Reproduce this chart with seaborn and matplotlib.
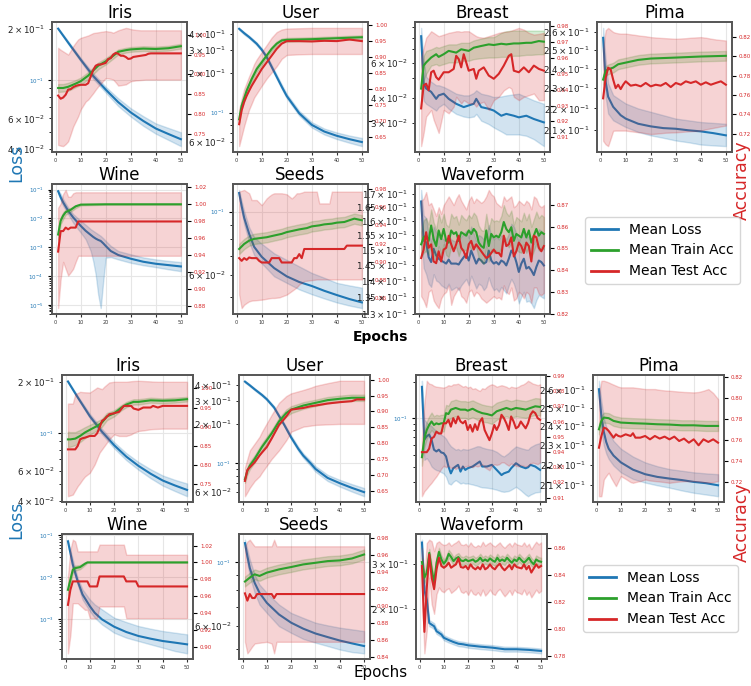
import numpy as np
import pandas as pd
import seaborn as sns
import matplotlib.pyplot as plt
from matplotlib.lines import Line2D

# Every row below is (epoch, low, mean, high).
# "1" = upper figure, "2" = lower figure.

iris1_loss = [(1, .199, .200, .202), (5, .163, .166, .169), (10, .129, .132, .135), (15, .102, .106, .110),
              (20, .085, .0883, .0916), (25, .0708, .0746, .0785), (30, .0615, .0650, .0687),
              (35, .0543, .0580, .0618), (40, .0489, .0524, .0561), (45, .0450, .0487, .0528),
              (50, .0414, .0454, .0498)]
iris1_train = [(1, .856, .866, .876), (3, .857, .866, .876), (5, .859, .869, .879), (8, .868, .877, .886),
               (10, .874, .883, .892), (13, .888, .897, .906), (15, .901, .910, .918), (17, .913, .922, .930),
               (20, .925, .933, .941), (23, .940, .947, .954), (25, .950, .957, .963), (28, .955, .961, .967),
               (30, .957, .963, .969), (35, .959, .965, .971), (40, .958, .964, .970), (45, .960, .966, .972),
               (50, .965, .971, .977)]
iris1_test = [(1, .723, .847, .967), (2, .721, .839, .962), (3, .720, .842, .958), (4, .725, .849, .954),
              (5, .732, .862, .950), (6, .750, .863, .960), (7, .769, .868, .971), (8, .782, .871, .980),
              (9, .795, .873, .988), (10, .812, .874, .992), (12, .832, .874, .996), (13, .837, .878, .998),
              (14, .845, .895, 1.001), (15, .853, .911, 1.004), (16, .862, .922, 1.005), (17, .870, .925, 1.006),
              (18, .877, .925, 1.007), (20, .891, .929, 1.009), (21, .890, .939, 1.008), (22, .889, .941, 1.007),
              (23, .887, .950, 1.005), (24, .880, .954, 1.008), (25, .872, .952, 1.011), (26, .873, .947, 1.013),
              (27, .874, .947, 1.015), (28, .875, .944, 1.017), (29, .879, .939, 1.016), (30, .883, .940, 1.014),
              (31, .884, .944, 1.013), (32, .885, .945, 1.012), (34, .886, .947, 1.011), (36, .887, .949, 1.011),
              (37, .887, .952, 1.011), (38, .887, .953, 1.011), (40, .887, .953, 1.011), (50, .887, .953, 1.011)]

user1_loss = [(1, .430, .437, .444), (3, .395, .405, .413), (5, .370, .378, .386), (8, .328, .336, .344),
              (10, .295, .303, .311), (12, .258, .266, .274), (15, .198, .205, .212), (18, .152, .158, .164),
              (20, .129, .134, .139), (25, .0950, .0988, .103), (30, .0770, .0806, .0845),
              (35, .0681, .0717, .0755), (40, .0628, .0665, .0705), (45, .0589, .0627, .0668),
              (50, .0555, .0596, .0640)]
user1_train = [(1, .696, .706, .716), (2, .738, .748, .758), (4, .785, .795, .805), (6, .821, .831, .841),
               (8, .853, .862, .871), (10, .875, .883, .891), (12, .897, .904, .911), (14, .918, .925, .932),
               (16, .934, .941, .948), (18, .945, .951, .957), (20, .947, .953, .959), (30, .949, .955, .961),
               (40, .952, .958, .964), (50, .955, .961, .967)]
user1_test = [(1, .623, .691, .737), (2, .654, .734, .770), (3, .685, .760, .800), (4, .712, .779, .820),
              (5, .737, .795, .840), (6, .755, .810, .858), (7, .774, .823, .878), (8, .786, .836, .892),
              (10, .810, .862, .915), (12, .833, .883, .937), (14, .852, .904, .960), (16, .871, .925, .977),
              (18, .894, .941, .985), (20, .906, .949, .988), (25, .908, .949, .989), (30, .909, .948, .990),
              (35, .909, .950, .990), (40, .909, .949, .990), (45, .909, .954, .990), (50, .909, .949, .990)]

breast1_loss = [(1, .0723, .0813, .0895), (2, .0387, .0471, .0619), (3, .0373, .0445, .0509),
                (5, .0359, .0428, .0481), (7, .0345, .0395, .0462), (8, .0359, .0411, .0462),
                (10, .0373, .0419, .0453), (12, .0352, .0395, .0440), (15, .0332, .0373, .0419),
                (18, .0322, .0359, .0411), (20, .0319, .0366, .0411), (22, .0322, .0373, .0423),
                (23, .0332, .0395, .0436), (25, .0307, .0359, .0419), (28, .0295, .0352, .0411),
                (30, .0284, .0345, .0403), (33, .0271, .0325, .0406), (35, .0262, .0332, .0411),
                (38, .0262, .0325, .0416), (40, .0262, .0319, .0419), (43, .0258, .0325, .0403),
                (46, .0248, .0313, .0388), (50, .0229, .0301, .0373)]
breast1_train = [(1, .9334, .9407, .9469), (2, .9458, .9552, .9614), (3, .9500, .9572, .9645),
                 (5, .9552, .9603, .9655), (7, .9562, .9624, .9670), (8, .9552, .9607, .9665),
                 (10, .9562, .9624, .9676), (12, .9572, .9645, .9686), (15, .9572, .9634, .9686),
                 (17, .9583, .9655, .9696), (20, .9583, .9645, .9696), (22, .9593, .9665, .9711),
                 (25, .9599, .9676, .9723), (28, .9603, .9686, .9732), (30, .9603, .9682, .9732),
                 (33, .9607, .9690, .9759), (35, .9607, .9686, .9769), (38, .9614, .9692, .9773),
                 (40, .9614, .9692, .9773), (43, .9620, .9696, .9773), (45, .9620, .9696, .9773),
                 (48, .9624, .9707, .9773), (50, .9624, .9703, .9773)]
breast1_test = [(1, .9044, .9282, .9603), (2, .9127, .9427, .9665), (3, .9231, .9438, .9728),
                (4, .9251, .9396, .9748), (5, .9272, .9510, .9769), (6, .9210, .9520, .9759),
                (7, .9169, .9479, .9748), (8, .9127, .9463, .9738), (10, .9272, .9510, .9748),
                (12, .9251, .9510, .9759), (14, .9293, .9531, .9765), (15, .9355, .9614, .9769),
                (16, .9334, .9593, .9769), (17, .9313, .9541, .9765), (18, .9334, .9624, .9769),
                (19, .9324, .9572, .9769), (20, .9313, .9520, .9769), (22, .9313, .9531, .9748),
                (23, .9293, .9469, .9738), (24, .9313, .9520, .9732), (26, .9324, .9541, .9728),
                (28, .9272, .9489, .9738), (30, .9334, .9469, .9748), (32, .9355, .9500, .9759),
                (34, .9396, .9552, .9765), (36, .9417, .9614, .9769), (37, .9407, .9624, .9773),
                (38, .9355, .9520, .9779), (40, .9334, .9510, .9790), (42, .9355, .9541, .9779),
                (44, .9365, .9510, .9759), (46, .9376, .9552, .9748), (48, .9334, .9531, .9752),
                (50, .9334, .9520, .9759)]

pima1_loss = [(1, .2519, .2566, .2622), (2, .2257, .2333, .2446), (3, .2176, .2257, .2324),
              (5, .2144, .2208, .2265), (8, .2125, .2168, .2240), (10, .2113, .2152, .2224),
              (15, .2090, .2128, .2200), (20, .2075, .2116, .2184), (25, .2064, .2108, .2168),
              (30, .2052, .2105, .2152), (35, .2044, .2098, .2144), (40, .2034, .2093, .2136),
              (45, .2030, .2085, .2132), (50, .2027, .2075, .2128)]
pima1_train = [(1, .7708, .7758, .7808), (2, .7796, .7846, .7896), (3, .7814, .7864, .7914),
               (5, .7831, .7881, .7931), (7, .7866, .7916, .7966), (10, .7883, .7933, .7983),
               (15, .7911, .7961, .8011), (20, .7925, .7975, .8025), (30, .7935, .7985, .8035),
               (40, .7946, .7996, .8046), (50, .7953, .8003, .8053)]
pima1_test = [(1, .7126, .7565, .8074), (2, .7090, .7775, .8267), (3, .7072, .7881, .8291),
              (4, .7150, .7863, .8270), (5, .7230, .7758, .8249), (6, .7232, .7670, .8240),
              (7, .7232, .7705, .8235), (8, .7232, .7660, .8232), (9, .7232, .7705, .8232),
              (10, .7232, .7740, .8232), (12, .7225, .7695, .8225), (14, .7218, .7705, .8218),
              (16, .7214, .7688, .8210), (18, .7205, .7723, .8205), (20, .7196, .7688, .8196),
              (22, .7200, .7705, .8192), (24, .7205, .7695, .8188), (26, .7210, .7723, .8185),
              (28, .7212, .7681, .8182), (30, .7214, .7723, .8179), (32, .7218, .7705, .8182),
              (34, .7222, .7740, .8185), (36, .7226, .7723, .8190), (38, .7228, .7740, .8193),
              (40, .7232, .7705, .8196), (42, .7245, .7730, .8190), (44, .7255, .7705, .8180),
              (46, .7265, .7723, .8172), (48, .7275, .7740, .8166), (50, .7284, .7705, .8161)]

wine1_loss = [(1, 10**-1.116, 10**-1.058, 10**-1.012), (2, 10**-1.38, 10**-1.267, 10**-1.15),
              (3, 10**-1.56, 10**-1.442, 10**-1.33), (5, 10**-1.849, 10**-1.733, 10**-1.616),
              (7, 10**-2.15, 10**-1.965, 10**-1.85), (10, 10**-2.488, 10**-2.256, 10**-2.081),
              (12, 10**-2.721, 10**-2.430, 10**-2.22), (14, 10**-3.128, 10**-2.570, 10**-2.372),
              (15, 10**-3.477, 10**-2.640, 10**-2.430), (16, 10**-3.942, 10**-2.698, 10**-2.488),
              (17, 10**-4.640, 10**-2.744, 10**-2.547), (18, 10**-5.105, 10**-2.779, 10**-2.605),
              (19, 10**-4.174, 10**-2.860, 10**-2.686), (20, 10**-3.360, 10**-2.953, 10**-2.779),
              (22, 10**-3.337, 10**-3.128, 10**-2.95), (25, 10**-3.419, 10**-3.267, 10**-3.128),
              (30, 10**-3.535, 10**-3.395, 10**-3.244), (35, 10**-3.62, 10**-3.500, 10**-3.35),
              (40, 10**-3.686, 10**-3.570, 10**-3.419), (45, 10**-3.76, 10**-3.616, 10**-3.47),
              (50, 10**-3.826, 10**-3.663, 10**-3.512)]
wine1_train = [(1, .9585, .9645, .9705), (2, .9766, .9806, .9846), (3, .9827, .9867, .9907),
               (4, .9877, .9907, .9937), (6, .9913, .9935, .9957), (8, .9955, .9976, .9990),
               (10, .9986, .9996, 1.0004), (20, .9995, 1.0, 1.0005), (50, .9995, 1.0, 1.0005)]
wine1_test = [(1, .8780, .9444, .9960), (2, .9121, .9685, 1.0008), (3, .9323, .9685, 1.0120),
              (4, .9242, .9726, 1.0169), (5, .9163, .9706, 1.0089), (6, .9200, .9726, 1.0089),
              (7, .9242, .9726, 1.0129), (8, .9323, .9726, 1.0141), (9, .9395, .9798, 1.0141),
              (50, .9395, .9798, 1.0141)]

seeds1_loss = [(1, 10**-0.946, 10**-0.934, 10**-0.923), (2, 10**-0.998, 10**-0.980, 10**-0.963),
               (3, 10**-1.044, 10**-1.021, 10**-0.998), (5, 10**-1.107, 10**-1.078, 10**-1.055),
               (7, 10**-1.153, 10**-1.124, 10**-1.090), (10, 10**-1.182, 10**-1.159, 10**-1.113),
               (15, 10**-1.228, 10**-1.199, 10**-1.147), (20, 10**-1.251, 10**-1.228, 10**-1.170),
               (25, 10**-1.274, 10**-1.248, 10**-1.193), (30, 10**-1.291, 10**-1.262, 10**-1.216),
               (35, 10**-1.306, 10**-1.279, 10**-1.233), (40, 10**-1.320, 10**-1.294, 10**-1.251),
               (45, 10**-1.331, 10**-1.308, 10**-1.260), (50, 10**-1.340, 10**-1.320, 10**-1.268)]
seeds1_train = [(1, .9085, .9141, .9197), (3, .9140, .9196, .9252), (5, .9177, .9233, .9289),
                (7, .9196, .9252, .9308), (10, .9207, .9263, .9319), (12, .9214, .9270, .9326),
                (15, .9233, .9289, .9345), (18, .9251, .9307, .9363), (20, .9270, .9326, .9382),
                (23, .9288, .9344, .9400), (25, .9300, .9356, .9412), (28, .9314, .9370, .9426),
                (30, .9333, .9389, .9445), (33, .9344, .9400, .9456), (35, .9355, .9411, .9467),
                (38, .9363, .9419, .9475), (40, .9374, .9430, .9486), (43, .9381, .9437, .9493),
                (45, .9400, .9456, .9512), (47, .9418, .9474, .9530), (50, .9400, .9456, .9512)]
seeds1_test = [(1, .8641, .9041, .9770), (2, .8493, .9011, .9780), (3, .8530, .9041, .9789),
               (4, .8550, .9022, .9770), (5, .8567, .9048, .9752), (6, .8575, .9041, .9678),
               (8, .8580, .9041, .9678), (9, .8583, .9011, .9650), (10, .8585, .8993, .9622),
               (12, .8595, .8993, .9696), (13, .8600, .8993, .9720), (14, .8604, .9041, .9740),
               (15, .8604, .9041, .9752), (17, .8610, .9041, .9752), (18, .8620, .8993, .9752),
               (20, .8641, .8993, .9741), (22, .8680, .8993, .9696), (23, .8700, .9041, .9720),
               (24, .8720, .9041, .9752), (25, .8752, .9085, .9752), (26, .8770, .9041, .9760),
               (27, .8789, .9141, .9770), (32, .8807, .9141, .9770), (33, .8807, .9141, .9641),
               (37, .8807, .9141, .9641), (38, .8807, .9141, .9770), (43, .8807, .9141, .9770),
               (44, .8807, .9178, .9770), (50, .8807, .9178, .9770)]

wave1_epoch = list(range(1, 51))
wave1_loss_mean = [.1671, .1531, .1525, .1475, .1459, .1503, .1481, .1470, .1464, .1459,
                   .1454, .1467, .1454, .1454, .1454, .1451, .1464, .1475, .1486, .1464,
                   .1497, .1475, .1454, .1470, .1464, .1454, .1459, .1497, .1464, .1454,
                   .1459, .1451, .1464, .1459, .1448, .1470, .1497, .1486, .1459, .1427,
                   .1454, .1470, .1438, .1443, .1432, .1417, .1443, .1464, .1459, .1448]
wave1_loss_lo = [.1560, .1440, .1420, .1390, .1380, .1420, .1400, .1395, .1385, .1380,
                 .1375, .1390, .1370, .1375, .1380, .1370, .1385, .1395, .1405, .1385,
                 .1415, .1395, .1375, .1390, .1385, .1370, .1380, .1410, .1385, .1370,
                 .1375, .1365, .1380, .1370, .1360, .1385, .1405, .1390, .1365, .1330,
                 .1350, .1365, .1335, .1338, .1330, .1316, .1340, .1355, .1350, .1345]
wave1_loss_hi = [.1715, .1620, .1610, .1550, .1530, .1580, .1560, .1545, .1540, .1535,
                 .1530, .1545, .1535, .1530, .1528, .1532, .1545, .1555, .1565, .1540,
                 .1580, .1555, .1530, .1550, .1545, .1535, .1540, .1585, .1545, .1535,
                 .1545, .1535, .1550, .1545, .1535, .1555, .1590, .1580, .1555, .1525,
                 .1555, .1575, .1540, .1548, .1535, .1520, .1545, .1570, .1565, .1550]
wave1_train_mean = [.8519, .8551, .8559, .8535, .8606, .8543, .8511, .8583, .8543, .8590,
                    .8535, .8527, .8583, .8567, .8575, .8535, .8575, .8567, .8559, .8583,
                    .8567, .8590, .8575, .8527, .8511, .8503, .8583, .8511, .8567, .8551,
                    .8559, .8551, .8575, .8622, .8590, .8575, .8598, .8535, .8567, .8559,
                    .8551, .8590, .8551, .8583, .8527, .8559, .8590, .8559, .8575, .8567]
wave1_train_lo = [.8460, .8480, .8490, .8470, .8530, .8470, .8440, .8510, .8470, .8520,
                  .8470, .8460, .8510, .8500, .8505, .8465, .8500, .8495, .8490, .8515,
                  .8495, .8520, .8505, .8455, .8440, .8430, .8510, .8440, .8495, .8480,
                  .8490, .8480, .8505, .8545, .8520, .8505, .8525, .8465, .8495, .8485,
                  .8480, .8520, .8480, .8510, .8455, .8490, .8520, .8490, .8505, .8495]
wave1_train_hi = [.8580, .8630, .8640, .8610, .8680, .8620, .8590, .8660, .8620, .8660,
                  .8610, .8600, .8660, .8640, .8650, .8610, .8655, .8640, .8630, .8655,
                  .8640, .8665, .8650, .8605, .8585, .8580, .8660, .8590, .8640, .8625,
                  .8630, .8625, .8650, .8700, .8665, .8650, .8675, .8610, .8645, .8635,
                  .8625, .8665, .8630, .8660, .8600, .8635, .8670, .8640, .8655, .8645]
wave1_test_mean = [.8456, .8495, .8575, .8503, .8519, .8440, .8432, .8487, .8440, .8495,
                   .8503, .8559, .8519, .8487, .8519, .8559, .8503, .8487, .8456, .8519,
                   .8535, .8495, .8519, .8503, .8487, .8471, .8456, .8463, .8479, .8495,
                   .8479, .8479, .8463, .8559, .8511, .8519, .8551, .8463, .8487, .8527,
                   .8511, .8479, .8527, .8511, .8440, .8559, .8551, .8503, .8487, .8511]
wave1_test_lo = [.8280, .8260, .8230, .8300, .8310, .8260, .8240, .8225, .8270, .8290,
                 .8300, .8330, .8240, .8280, .8300, .8320, .8280, .8270, .8250, .8300,
                 .8310, .8280, .8300, .8290, .8270, .8260, .8250, .8260, .8270, .8280,
                 .8270, .8275, .8265, .8330, .8300, .8290, .8320, .8260, .8270, .8300,
                 .8290, .8270, .8300, .8290, .8250, .8320, .8320, .8290, .8285, .8295]
wave1_test_hi = [.8720, .8730, .8760, .8700, .8710, .8680, .8650, .8690, .8660, .8700,
                 .8720, .8740, .8720, .8700, .8730, .8750, .8720, .8700, .8680, .8720,
                 .8740, .8710, .8730, .8720, .8710, .8720, .8740, .8770, .8750, .8740,
                 .8710, .8700, .8690, .8740, .8720, .8730, .8740, .8690, .8700, .8720,
                 .8710, .8700, .8720, .8710, .8680, .8740, .8730, .8700, .8690, .8700]

iris2_loss = [(1, .200, .202, .204), (5, .160, .163, .166), (10, .123, .126, .130), (15, .0985, .102, .106),
              (20, .0815, .0849, .0885), (25, .0693, .0727, .0762), (30, .0608, .0641, .0676),
              (35, .0542, .0576, .0612), (40, .0490, .0525, .0562), (45, .0455, .0491, .0530),
              (50, .0424, .0462, .0504)]
iris2_train = [(1, .847, .867, .887), (2, .848, .867, .886), (4, .852, .869, .886), (6, .860, .876, .892),
               (8, .870, .885, .899), (10, .879, .892, .905), (13, .891, .902, .914), (15, .900, .911, .921),
               (17, .917, .927, .936), (20, .927, .935, .943), (23, .943, .950, .957), (25, .951, .958, .965),
               (28, .958, .965, .972), (30, .958, .965, .972), (35, .963, .969, .976), (40, .961, .968, .974),
               (45, .963, .969, .976), (50, .966, .972, .978)]
iris2_test = [(1, .7185, .8409, .9607), (3, .7229, .8409, .9607), (4, .7340, .8409, .9851),
              (5, .7448, .8497, .9880), (6, .7530, .8671, .9913), (7, .7622, .8700, .9905),
              (8, .7700, .8715, .9900), (10, .7797, .8759, .9895), (12, .8016, .8759, .9980),
              (13, .8170, .8829, 1.0026), (14, .8322, .8977, 1.0005), (15, .8410, .9152, .9983),
              (16, .8497, .9196, 1.0050), (18, .8671, .9327, 1.0157), (20, .8802, .9353, 1.0175),
              (22, .8759, .9388, 1.0175), (24, .8759, .9545, 1.0175), (25, .8759, .9545, 1.0175),
              (27, .8800, .9545, 1.0190), (28, .8840, .9476, 1.0195), (30, .8890, .9441, 1.0201),
              (32, .8905, .9502, 1.0195), (35, .8934, .9502, 1.0185), (36, .8940, .9545, 1.0180),
              (38, .8945, .9502, 1.0175), (40, .8951, .9545, 1.0175), (50, .8951, .9545, 1.0175)]

user2_loss = [(1, .418, .4246, .431), (3, .391, .3976, .404), (5, .364, .3706, .377), (8, .329, .3353, .342),
              (10, .304, .3107, .317), (13, .262, .2683, .275), (15, .226, .2316, .237), (17, .195, .200, .205),
              (20, .153, .1581, .1635), (23, .124, .1287, .1335), (25, .110, .1145, .1190),
              (28, .0955, .1000, .1045), (30, .0862, .0905, .0950), (35, .0731, .0772, .0815),
              (40, .0662, .0703, .0746), (45, .0606, .0647, .0691), (50, .0558, .0600, .0645)]
user2_train = [(1, .6740, .6856, .6970), (2, .7010, .7124, .7240), (3, .7170, .7285, .7400),
               (5, .7385, .7500, .7615), (8, .7760, .7876, .7990), (10, .7975, .8090, .8205),
               (12, .8190, .8305, .8420), (15, .8565, .8680, .8795), (18, .8835, .8948, .9060),
               (20, .8945, .9056, .9165), (25, .9080, .9185, .9290), (30, .9170, .9270, .9370),
               (35, .9256, .9356, .9456), (40, .9299, .9399, .9499), (45, .9331, .9431, .9531),
               (50, .9331, .9431, .9531)]
user2_test = [(1, .6320, .6803, .7232), (2, .6450, .7146, .7500), (3, .6588, .7232, .7768),
              (5, .6803, .7393, .7983), (7, .6950, .7607, .8200), (8, .7071, .7700, .8358),
              (10, .7285, .7876, .8627), (12, .7500, .8144, .8895), (15, .7768, .8573, .9270),
              (18, .8090, .8841, .9485), (20, .8358, .9056, .9571), (25, .8519, .9109, .9678),
              (28, .8550, .9163, .9750), (30, .8573, .9185, .9807), (35, .8590, .9249, .9893),
              (40, .8605, .9292, .9968), (45, .8605, .9324, .9968), (47, .8605, .9378, .9968),
              (50, .8605, .9378, .9968)]

breast2_loss = [(1, .1535, .1824, .2046), (2, .0455, .0668, .0982), (3, .0470, .0713, .0920),
                (4, .0440, .0736, .0890), (5, .0401, .0668, .0863), (6, .0385, .0552, .0820),
                (7, .0375, .0534, .0790), (8, .0370, .0552, .0760), (9, .0360, .0524, .0735),
                (10, .0352, .0517, .0713), (11, .0330, .0486, .0680), (12, .0291, .0401, .0627),
                (13, .0285, .0352, .0590), (14, .0300, .0388, .0570), (15, .0310, .0401, .0552),
                (16, .0300, .0414, .0560), (17, .0290, .0364, .0545), (18, .0295, .0401, .0560),
                (19, .0290, .0376, .0555), (20, .0291, .0388, .0552), (22, .0285, .0401, .0570),
                (24, .0278, .0427, .0590), (25, .0273, .0441, .0588), (26, .0270, .0401, .0575),
                (28, .0268, .0401, .0560), (30, .0264, .0414, .0552), (32, .0258, .0376, .0530),
                (34, .0250, .0341, .0495), (35, .0248, .0352, .0486), (37, .0252, .0364, .0520),
                (38, .0258, .0388, .0545), (40, .0273, .0427, .0588), (42, .0255, .0401, .0570),
                (44, .0235, .0388, .0555), (45, .0228, .0395, .0552), (46, .0235, .0414, .0580),
                (48, .0245, .0401, .0610), (50, .0248, .0376, .0627)]
breast2_train = [(1, .9310, .9366, .9420), (2, .9430, .9489, .9545), (3, .9485, .9545, .9600),
                 (4, .9520, .9578, .9635), (5, .9545, .9601, .9660), (6, .9525, .9578, .9635),
                 (7, .9535, .9589, .9645), (8, .9530, .9583, .9640), (9, .9535, .9589, .9645),
                 (10, .9535, .9589, .9645), (11, .9600, .9656, .9710), (12, .9595, .9650, .9705),
                 (13, .9625, .9679, .9735), (15, .9635, .9690, .9745), (17, .9625, .9679, .9735),
                 (19, .9625, .9679, .9735), (20, .9615, .9672, .9730), (22, .9630, .9685, .9740),
                 (24, .9612, .9668, .9725), (26, .9600, .9656, .9712), (28, .9595, .9650, .9705),
                 (30, .9585, .9641, .9700), (32, .9612, .9668, .9725), (34, .9625, .9679, .9735),
                 (36, .9635, .9690, .9745), (38, .9625, .9679, .9735), (40, .9635, .9690, .9745),
                 (42, .9630, .9685, .9740), (44, .9625, .9679, .9735), (46, .9635, .9690, .9745),
                 (48, .9645, .9701, .9755), (50, .9640, .9697, .9752)]
breast2_epoch = list(range(1, 51))
breast2_test_mean = [.9399, .9399, .9399, .9422, .9489, .9500, .9534, .9522, .9522, .9589,
                     .9589, .9612, .9567, .9623, .9589, .9634, .9601, .9589, .9605, .9545,
                     .9578, .9534, .9583, .9545, .9601, .9623, .9545, .9511, .9478, .9522,
                     .9578, .9545, .9578, .9645, .9623, .9589, .9545, .9634, .9601, .9556,
                     .9567, .9601, .9578, .9556, .9589, .9645, .9668, .9656, .9623, .9612]
breast2_test_lo = [.9109, .9142, .9160, .9180, .9198, .9220, .9240, .9265, .9290, .9310,
                   .9300, .9310, .9295, .9300, .9288, .9300, .9295, .9300, .9305, .9310,
                   .9305, .9300, .9310, .9305, .9310, .9320, .9300, .9290, .9280, .9310,
                   .9320, .9315, .9320, .9332, .9332, .9320, .9310, .9325, .9315, .9310,
                   .9305, .9315, .9310, .9305, .9310, .9325, .9330, .9325, .9320, .9332]
breast2_test_hi = [.9489, .9712, .9869, .9850, .9846, .9835, .9830, .9828, .9826, .9824,
                   .9830, .9840, .9835, .9846, .9846, .9850, .9840, .9830, .9835, .9824,
                   .9830, .9815, .9820, .9810, .9802, .9820, .9815, .9830, .9840, .9846,
                   .9840, .9830, .9835, .9840, .9835, .9830, .9820, .9830, .9826, .9824,
                   .9830, .9840, .9845, .9855, .9869, .9860, .9850, .9846, .9840, .9846]

pima2_loss = [(1, .2566, .2606, .2656), (2, .2368, .2452, .2537), (3, .2297, .2368, .2442),
              (4, .2255, .2314, .2395), (5, .2228, .2280, .2368), (7, .2195, .2245, .2320),
              (10, .2162, .2211, .2280), (15, .2130, .2175, .2240), (20, .2113, .2153, .2211),
              (25, .2100, .2140, .2192), (30, .2089, .2132, .2178), (35, .2076, .2125, .2170),
              (40, .2065, .2116, .2162), (45, .2057, .2110, .2157), (50, .2049, .2100, .2153)]
pima2_train = [(1, .7656, .7704, .7752), (2, .7736, .7784, .7832), (3, .7768, .7816, .7864),
               (5, .7762, .7810, .7858), (7, .7736, .7784, .7832), (10, .7720, .7768, .7816),
               (15, .7714, .7762, .7810), (20, .7710, .7758, .7806), (25, .7704, .7752, .7800),
               (30, .7701, .7749, .7797), (35, .7694, .7742, .7790), (40, .7694, .7742, .7790),
               (45, .7688, .7736, .7784), (50, .7688, .7736, .7784)]
pima2_test = [(1, .7065, .7528, .8024), (2, .7065, .7640, .8167), (3, .7225, .7720, .8167),
              (4, .7260, .7711, .8160), (5, .7289, .7688, .8151), (6, .7240, .7656, .8140),
              (7, .7200, .7624, .8130), (8, .7161, .7656, .8120), (9, .7210, .7640, .8110),
              (10, .7257, .7634, .8104), (12, .7230, .7656, .8104), (14, .7200, .7640, .8104),
              (15, .7193, .7666, .8104), (16, .7200, .7624, .8100), (18, .7210, .7624, .8095),
              (20, .7225, .7640, .8088), (22, .7215, .7608, .8088), (24, .7210, .7640, .8088),
              (26, .7205, .7615, .8080), (28, .7200, .7634, .8075), (30, .7193, .7608, .8072),
              (32, .7200, .7634, .8068), (34, .7205, .7592, .8064), (36, .7209, .7615, .8060),
              (38, .7209, .7576, .8058), (40, .7209, .7608, .8056), (42, .7205, .7551, .8060),
              (44, .7200, .7608, .8072), (46, .7195, .7583, .8088), (48, .7200, .7608, .8050),
              (50, .7209, .7576, .7992)]

wine2_loss = [(1, .0658, .0721, .0789), (2, .0318, .0381, .0441), (3, .0153, .0201, .0265),
              (5, .00676, .00811, .00973), (7, .00298, .00392, .00514), (10, .00158, .00207, .00298),
              (12, .00110, .00144, .00227), (15, .00076, .00100, .00173), (20, .000483, .00067, .00110),
              (25, .000368, .000501, .000865), (30, .000306, .000403, .000695),
              (35, .000255, .000348, .000601), (40, .000213, .000306, .000529),
              (45, .000177, .000280, .000483), (50, .000156, .000255, .000441)]
wine2_train = [(1, .9614, .9674, .9734), (2, .9743, .9793, .9843), (3, .9878, .9913, .9948),
               (4, .9902, .9932, .9962), (6, .9919, .9944, .9969), (8, .9969, .9984, .9999),
               (9, .9995, 1.0, 1.0005), (50, .9995, 1.0, 1.0005)]
wine2_test = [(1, .8919, .9495, .9833), (2, .9138, .9674, 1.0151), (3, .9515, .9774, 1.0270),
              (4, .9515, .9774, 1.0250), (5, .9515, .9774, 1.0131), (8, .9436, .9774, 1.0131),
              (9, .9436, .9774, 1.0131), (10, .9337, .9714, 1.0131), (13, .9337, .9714, 1.0131),
              (14, .9476, .9833, 1.0211), (24, .9476, .9833, 1.0211), (25, .9337, .9774, 1.0091),
              (29, .9337, .9774, 1.0091), (30, .9337, .9714, 1.0091), (50, .9337, .9714, 1.0091)]

seeds2_loss = [(1, .1122, .1166, .1198), (2, .0995, .1050, .1106), (3, .0894, .0955, .1021),
               (5, .0783, .0848, .0906), (7, .0713, .0783, .0837), (10, .0667, .0723, .0783),
               (15, .0600, .0659, .0713), (20, .0569, .0617, .0667), (25, .0542, .0588, .0641),
               (30, .0526, .0566, .0617), (35, .0512, .0550, .0604), (40, .0498, .0535, .0593),
               (45, .0488, .0523, .0585), (50, .0483, .0512, .0577)]
seeds2_train = [(1, .9229, .9287, .9345), (3, .9275, .9333, .9391), (5, .9314, .9372, .9430),
                (7, .9295, .9353, .9411), (10, .9334, .9392, .9450), (15, .9372, .9430, .9488),
                (20, .9400, .9458, .9516), (25, .9431, .9489, .9547), (30, .9450, .9508, .9566),
                (35, .9470, .9528, .9586), (40, .9478, .9536, .9594), (45, .9501, .9559, .9617),
                (50, .9548, .9606, .9664)]
seeds2_test = [(1, .8575, .9147, .9703), (2, .8439, .9061, .9760), (3, .8478, .9139, .9781),
               (4, .8520, .9092, .9740), (5, .8555, .9092, .9703), (6, .8560, .9139, .9703),
               (10, .8575, .9139, .9703), (12, .8555, .9139, .9703), (13, .8439, .9092, .9781),
               (14, .8575, .9139, .9703), (50, .8575, .9139, .9703)]

wave2_loss = [(1, .3447, .3630, .3725), (2, .2204, .2371, .2508), (3, .2077, .2172, .2269),
              (4, .1717, .1768, .1817), (5, .1700, .1742, .1790), (6, .1672, .1717, .1765),
              (7, .1605, .1643, .1685), (8, .1582, .1619, .1660), (9, .1560, .1595, .1633),
              (10, .1515, .1549, .1585), (12, .1485, .1518, .1553), (14, .1460, .1491, .1525),
              (16, .1437, .1469, .1503), (18, .1430, .1461, .1494), (20, .1417, .1448, .1481),
              (25, .1400, .1431, .1463), (30, .1387, .1418, .1450), (35, .1368, .1398, .1430),
              (40, .1369, .1398, .1428), (45, .1361, .1390, .1420), (50, .1348, .1377, .1407)]
wave2_epoch = list(range(1, 51))
wave2_train_mean = [.8494, .8379, .8416, .8562, .8440, .8342, .8489, .8570, .8513, .8482,
                    .8506, .8555, .8531, .8501, .8521, .8531, .8506, .8501, .8513, .8501,
                    .8506, .8513, .8496, .8506, .8526, .8501, .8513, .8501, .8521, .8506,
                    .8496, .8526, .8501, .8513, .8501, .8526, .8506, .8489, .8513, .8501,
                    .8526, .8506, .8489, .8506, .8526, .8496, .8477, .8513, .8501, .8496]
wave2_train_lo = [.8464, .8339, .8381, .8532, .8405, .8307, .8459, .8540, .8483, .8452,
                  .8476, .8525, .8501, .8471, .8491, .8501, .8476, .8471, .8483, .8471,
                  .8476, .8483, .8466, .8476, .8496, .8471, .8483, .8471, .8491, .8476,
                  .8466, .8496, .8471, .8483, .8471, .8496, .8476, .8459, .8483, .8471,
                  .8496, .8476, .8459, .8476, .8496, .8466, .8447, .8483, .8471, .8466]
wave2_train_hi = [.8524, .8419, .8451, .8592, .8475, .8377, .8519, .8600, .8543, .8512,
                  .8536, .8585, .8561, .8531, .8551, .8561, .8536, .8531, .8543, .8531,
                  .8536, .8543, .8526, .8536, .8556, .8531, .8543, .8531, .8551, .8536,
                  .8526, .8556, .8531, .8543, .8531, .8556, .8536, .8519, .8543, .8531,
                  .8556, .8536, .8519, .8536, .8556, .8526, .8507, .8543, .8531, .8526]
wave2_test_mean = [.8465, .7976, .8306, .8550, .8379, .8293, .8440, .8526, .8465, .8452,
                   .8465, .8489, .8452, .8465, .8477, .8521, .8457, .8452, .8465, .8440,
                   .8477, .8452, .8440, .8457, .8440, .8477, .8440, .8452, .8477, .8452,
                   .8440, .8465, .8482, .8452, .8433, .8452, .8472, .8440, .8477, .8457,
                   .8452, .8447, .8477, .8440, .8465, .8416, .8447, .8477, .8452, .8465]
wave2_test_lo = [.8306, .7817, .7988, .8379, .8183, .8110, .8257, .8306, .8280, .8270,
                 .8290, .8300, .8265, .8280, .8295, .8320, .8275, .8265, .8280, .8250,
                 .8290, .8260, .8250, .8270, .8245, .8290, .8245, .8265, .8290, .8260,
                 .8250, .8280, .8295, .8265, .8240, .8260, .8285, .8250, .8290, .8270,
                 .8265, .8255, .8290, .8250, .8275, .8232, .8260, .8290, .8265, .8280]
wave2_test_hi = [.8599, .8379, .8636, .8660, .8648, .8575, .8636, .8648, .8630, .8620,
                 .8625, .8640, .8615, .8630, .8640, .8655, .8625, .8620, .8630, .8610,
                 .8640, .8615, .8605, .8620, .8610, .8645, .8615, .8630, .8640, .8620,
                 .8610, .8625, .8640, .8615, .8600, .8620, .8635, .8610, .8640, .8625,
                 .8620, .8615, .8640, .8610, .8630, .8590, .8620, .8645, .8625, .8640]

dataset_names = ['Iris', 'User', 'Breast', 'Pima', 'Wine', 'Seeds', 'Waveform']
series_labels = ['Mean Loss', 'Mean Train Acc', 'Mean Test Acc']

C_LOSS, C_TRAIN, C_TEST = 'tab:blue', 'tab:green', 'tab:red'
W, H = 751, 686


def cols(epochs, lo, mean, hi):
    return list(zip(epochs, lo, mean, hi))


def draw(ax, rows, color):
    # low/mean/high per epoch -> median line with min..max band
    df = pd.DataFrame(rows, columns=['epoch', 'lo', 'mean', 'hi'])
    long = df.melt(id_vars='epoch', value_name='value')
    sns.lineplot(data=long, x='epoch', y='value', estimator='median', errorbar=('pi', 100),
                 color=color, lw=1.5, ax=ax, legend=False)
    ax.set_xlabel('')
    ax.set_ylabel('')


def panel(fig, px, name, loss, train, test):
    x0, y0, x1, y1 = px
    ax = fig.add_axes([x0 / W, 1 - y1 / H, (x1 - x0) / W, (y1 - y0) / H])
    ax.set_yscale('log')
    draw(ax, loss, C_LOSS)
    ax.grid(True, which='major', color='#e6e6e6', lw=0.8)
    ax.set_axisbelow(True)
    ax.tick_params(axis='y', which='major', labelcolor=C_LOSS, labelsize=4, length=3)
    ax.tick_params(axis='y', which='minor', labelsize=6.3, labelcolor='#222222', length=2)
    ax.tick_params(axis='x', labelsize=3.5, length=2.5, pad=2, colors='#333333')
    ax2 = ax.twinx()
    draw(ax2, train, C_TRAIN)
    draw(ax2, test, C_TEST)
    ax2.tick_params(axis='y', labelcolor=C_TEST, labelsize=4, length=3, pad=2)
    for a in (ax, ax2):
        for s in a.spines.values():
            s.set_color('#555555')
            s.set_linewidth(1.2)
    ax.set_title(name, fontsize=12, pad=3)
    return ax


fig = plt.figure(figsize=(W / 100, H / 100), dpi=100)

top = [
    (iris1_loss, iris1_train, iris1_test, (52, 22, 187, 152)),
    (user1_loss, user1_train, user1_test, (233, 22, 368, 152)),
    (breast1_loss, breast1_train, breast1_test, (415, 22, 550, 152)),
    (pima1_loss, pima1_train, pima1_test, (597, 22, 732, 152)),
    (wine1_loss, wine1_train, wine1_test, (52, 184, 187, 314)),
    (seeds1_loss, seeds1_train, seeds1_test, (233, 184, 368, 314)),
    (cols(wave1_epoch, wave1_loss_lo, wave1_loss_mean, wave1_loss_hi),
     cols(wave1_epoch, wave1_train_lo, wave1_train_mean, wave1_train_hi),
     cols(wave1_epoch, wave1_test_lo, wave1_test_mean, wave1_test_hi), (415, 184, 550, 314)),
]
bottom = [
    (iris2_loss, iris2_train, iris2_test, (62, 375, 193, 502)),
    (user2_loss, user2_train, user2_test, (239, 375, 370, 502)),
    (breast2_loss, breast2_train,
     cols(breast2_epoch, breast2_test_lo, breast2_test_mean, breast2_test_hi), (416, 375, 546, 502)),
    (pima2_loss, pima2_train, pima2_test, (593, 375, 724, 502)),
    (wine2_loss, wine2_train, wine2_test, (62, 534, 193, 659)),
    (seeds2_loss, seeds2_train, seeds2_test, (239, 534, 370, 659)),
    (wave2_loss,
     cols(wave2_epoch, wave2_train_lo, wave2_train_mean, wave2_train_hi),
     cols(wave2_epoch, wave2_test_lo, wave2_test_mean, wave2_test_hi), (416, 534, 547, 659)),
]

for block in (top, bottom):
    for name, (loss, train, test, px) in zip(dataset_names, block):
        panel(fig, px, name, loss, train, test)

handles = [Line2D([0], [0], color=c, lw=2) for c in (C_LOSS, C_TRAIN, C_TEST)]
for lx, ly in ((585, 217), (583, 565)):
    fig.legend(handles, series_labels, loc='upper left', bbox_to_anchor=(lx / W, 1 - ly / H),
               borderaxespad=0, fontsize=10)

# shared axis labels of the two figures
fig.text(16 / W, 1 - 163 / H, 'Loss', color=C_LOSS, rotation=90, fontsize=12.5, ha='center', va='center')
fig.text(742 / W, 1 - 180 / H, 'Accuracy', color=C_TEST, rotation=90, fontsize=12.5, ha='center', va='center')
fig.text(380 / W, 1 - 337 / H, 'Epochs', fontsize=10, fontweight='bold', ha='center', va='center')
fig.text(16 / W, 1 - 520 / H, 'Loss', color=C_LOSS, rotation=90, fontsize=12.5, ha='center', va='center')
fig.text(742 / W, 1 - 522 / H, 'Accuracy', color=C_TEST, rotation=90, fontsize=12.5, ha='center', va='center')
fig.text(381 / W, 1 - 673 / H, 'Epochs', fontsize=10.8, ha='center', va='center')

fig.savefig('out.png', dpi=100)
